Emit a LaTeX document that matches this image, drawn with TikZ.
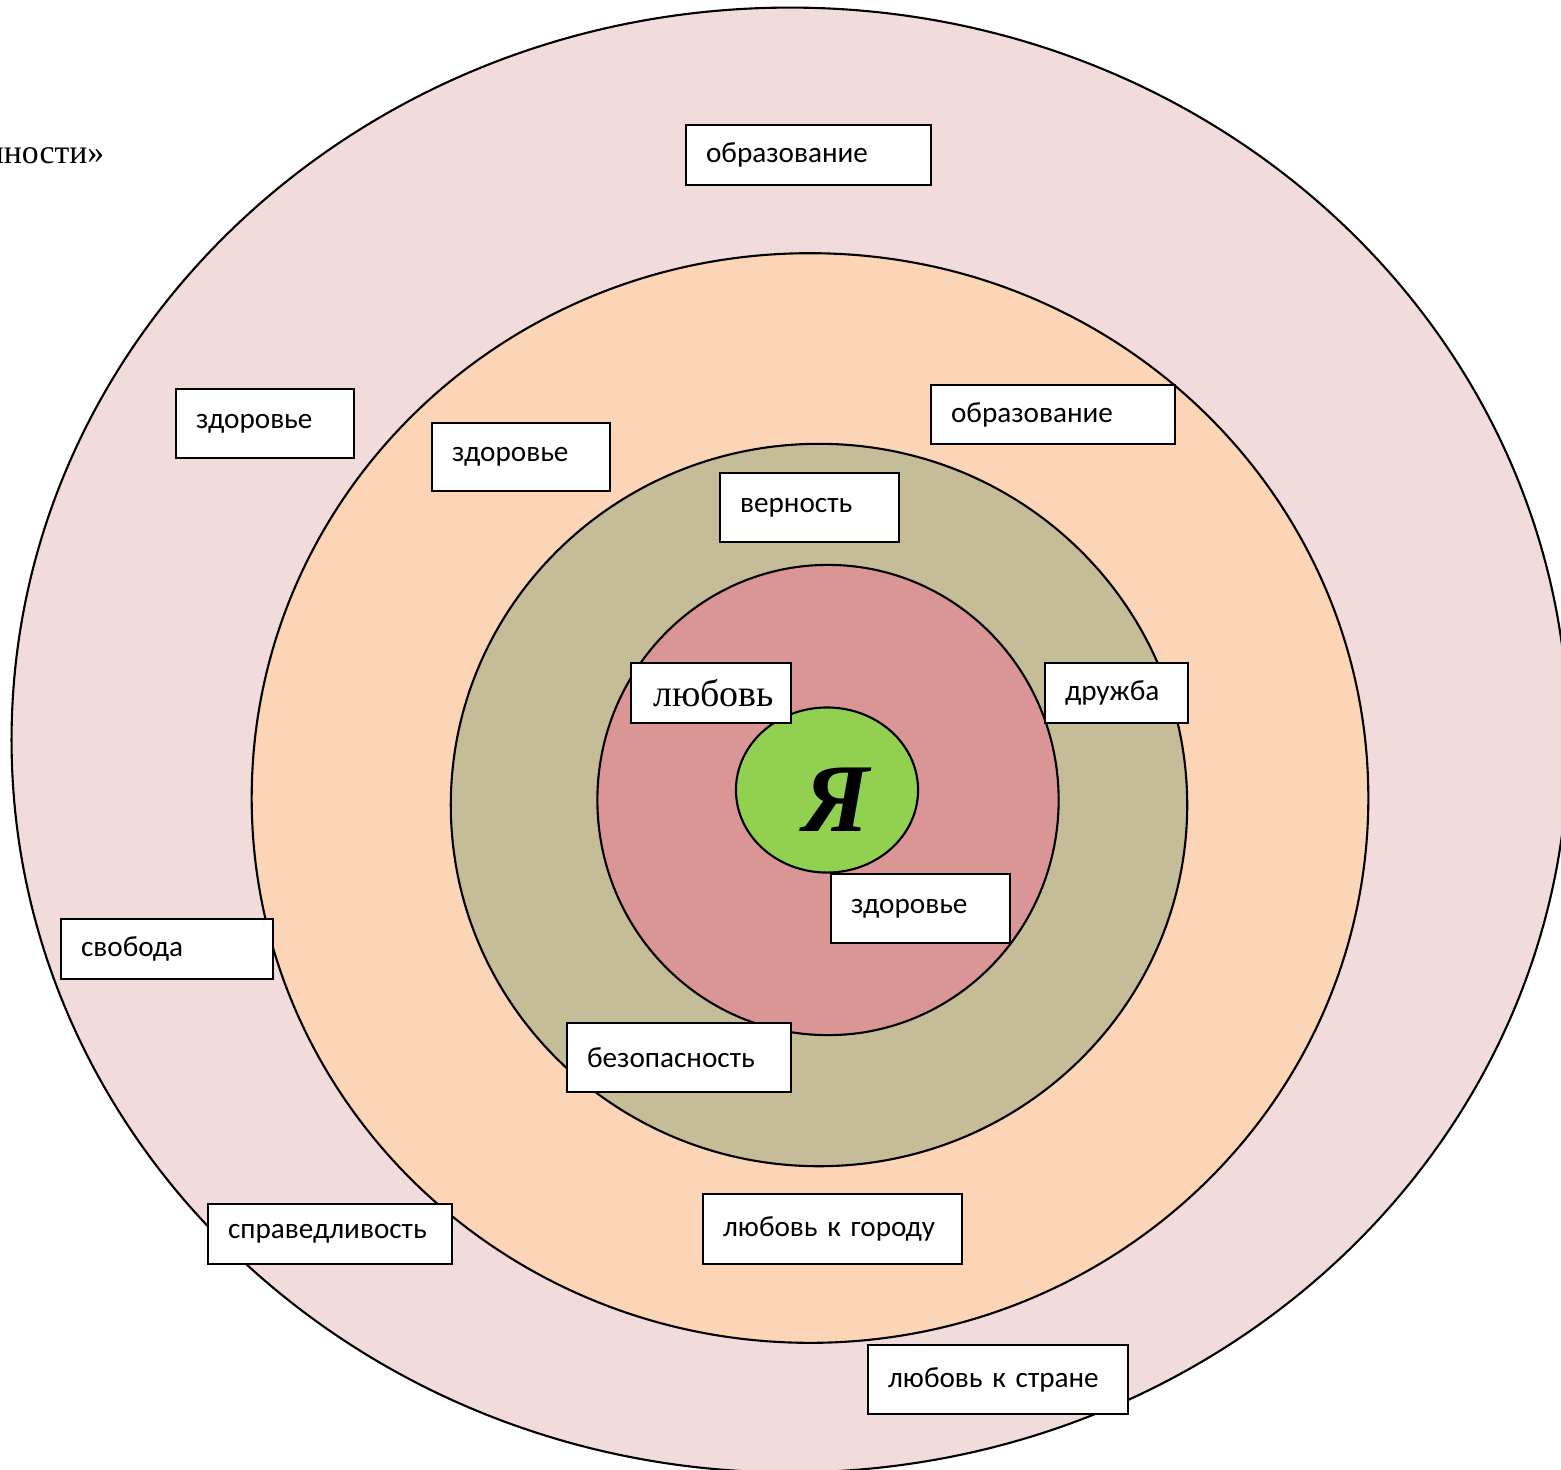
\documentclass[tikz,border=0pt]{standalone}
\usepackage{fontspec}
\setmainfont{Liberation Serif}
\newfontfamily\carlito{Carlito}
\usetikzlibrary{shapes.geometric}
\usetikzlibrary{positioning}
\definecolor{ringout}{HTML}{F2DCDB}
\definecolor{ringpeach}{HTML}{FBD5B5}
\definecolor{ringtan}{HTML}{C4BD97}
\definecolor{ringrose}{HTML}{D99694}
\definecolor{selfgreen}{HTML}{92D050}
\tikzset{ring/.style={ellipse,draw,line width=0.6pt,inner sep=0pt},
         val node/.style={rectangle,draw,fill=white,line width=0.6pt,anchor=north west,align=left,
                          inner xsep=0.2cm,inner ysep=0pt,font=\carlito\fontsize{8.3}{10}\selectfont},}

\begin{document}
\begin{tikzpicture}[x=0.01cm,y=-0.01cm]
   \useasboundingbox (0,0) rectangle (1561,1469);
   \clip (0,0) rectangle (1561,1469);
   % rings
   \node[ring,fill=ringout,minimum width=15.56cm,minimum height=14.64cm] (society) at (790,740) {};
   \node[ring,fill=ringpeach,minimum width=11.16cm,minimum height=10.89cm] (city) at (810,798) {};
   \node[ring,fill=ringtan,minimum width=7.36cm,minimum height=7.22cm] (friends) at (819,805) {};
   \node[ring,fill=ringrose,minimum width=4.61cm,minimum height=4.70cm] (family) at (828,800) {};
   \node[ring,fill=selfgreen,minimum width=1.82cm,minimum height=1.65cm] (self) at (827,790) {};
   \node[font=\fontsize{27.6}{30}\selectfont\bfseries\itshape] (selftext) at (836,800) {Я};

   \node[anchor=base east,inner sep=0pt,font=\fontsize{9.6}{11}\selectfont] (title) at (105,163) {нности»};

   % values
   \node[val node,text width=2.05cm,minimum height=0.60cm] (edu1) at (685,124) {образование};
   \node[val node,text width=1.38cm,minimum height=0.69cm] (health1) at (175,388) {здоровье};
   \node[val node,text width=1.38cm,minimum height=0.68cm] (health2) at (431,422) {здоровье};
   \node[val node,text width=2.04cm,minimum height=0.59cm] (edu2) at (930,384) {образование};
   \node[val node,text width=1.39cm,minimum height=0.69cm] (loyal) at (719,472) {верность};
   \node[val node,text width=1.16cm,minimum height=0.60cm,inner xsep=0.22cm,
         font=\fontsize{10.8}{12}\selectfont] (love) at (630,662) {любовь};
   \node[val node,text width=1.03cm,minimum height=0.60cm] (friend) at (1044,662) {дружба};
   \node[val node,text width=1.39cm,minimum height=0.69cm] (health3) at (830,873) {здоровье};
   \node[val node,text width=1.72cm,minimum height=0.60cm] (freedom) at (60,918) {свобода};
   \node[val node,text width=1.84cm,minimum height=0.69cm] (safety) at (566,1022) {безопасность};
   \node[val node,text width=2.04cm,minimum height=0.60cm] (justice) at (207,1203) {справедливость};
   \node[val node,text width=2.19cm,minimum height=0.70cm] (citylove) at (702,1193) {любовь к городу};
   \node[val node,text width=2.20cm,minimum height=0.69cm] (countrylove) at (867,1344) {любовь к стране};
\end{tikzpicture}
\end{document}
